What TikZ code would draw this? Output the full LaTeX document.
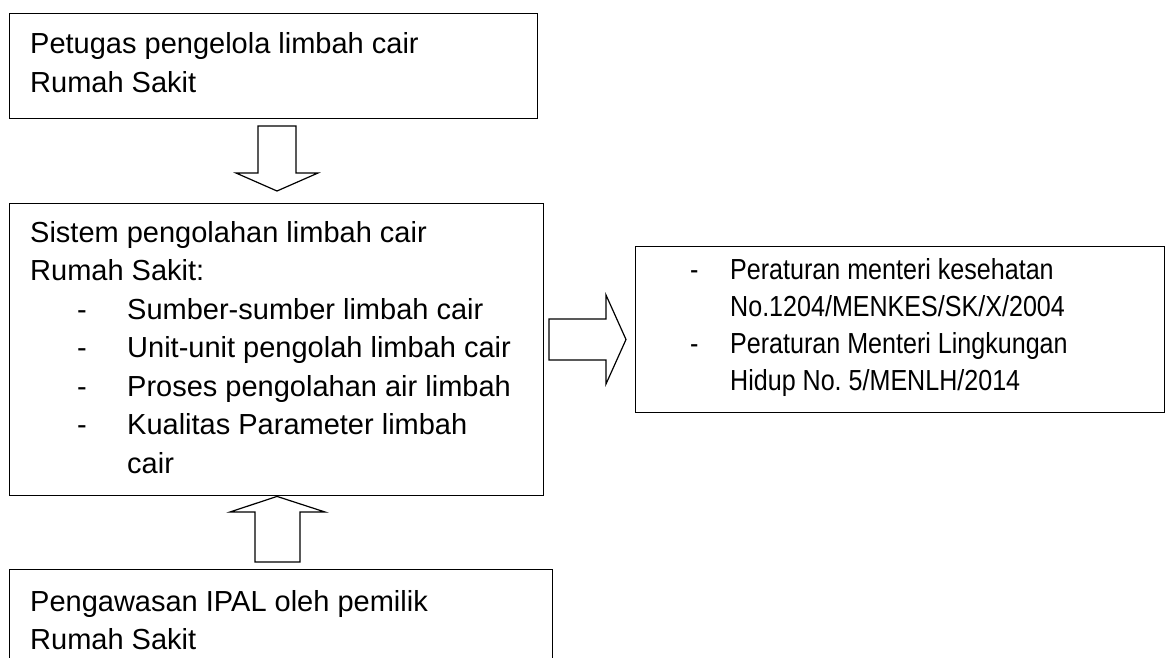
\documentclass[tikz,border=0pt]{standalone}
\usepackage{fontspec}
\setmainfont{Liberation Sans}
\newfontfamily\narrowfont[FakeStretch=0.865]{Liberation Sans}
\usetikzlibrary{calc}
\frenchspacing
\begin{document}
\begin{tikzpicture}[x=1pt,y=-1pt,
  box/.style={draw=black, line width=1.4pt, inner sep=0pt, anchor=north west},
  txt/.style={anchor=base west, inner sep=0pt, font=\fontsize{29}{38.5}\selectfont},
  ntxt/.style={anchor=base west, inner sep=0pt, font=\narrowfont\fontsize{29}{37}\selectfont},
  blockarrow/.style={draw=black, line width=1.2pt, fill=white, line join=miter}]
\useasboundingbox[fill=white] (0,0) rectangle (1168,657);
\clip (0,0) rectangle (1168,657);
% boxes
\node[box, minimum width=528pt, minimum height=105.3pt] (top) at (9,12.7) {};
\node[box, minimum width=534pt, minimum height=292pt] (mid) at (9,203) {};
\node[box, minimum width=529pt, minimum height=166pt] (right) at (635,246) {};
\node[box, minimum width=543pt, minimum height=120pt] (bot) at (9,569) {};
% texts top
\node[txt] (t1) at (30,53) {Petugas pengelola limbah cair};
\node[txt] (t2) at (30,92) {Rumah Sakit};
% texts middle
\node[txt] (m1) at (30,242) {Sistem pengolahan limbah cair};
\node[txt] (m2) at (30,280.5) {Rumah Sakit:};
\foreach \y/\t [count=\i] in {319/Sumber-sumber limbah cair, 357.5/Unit-unit pengolah limbah cair, 396/Proses pengolahan air limbah, 434.5/Kualitas Parameter limbah}{
  \node[txt] (md\i) at (77,\y) {-};
  \node[txt] (mb\i) at (127,\y) {\t};
}
\node[txt] (m7) at (127,473) {cair};
% texts right
\node[ntxt] (rd1) at (690,279) {-};
\node[ntxt] (r1) at (730,279) {Peraturan menteri kesehatan};
\node[ntxt] (r2) at (730,316) {No.1204/MENKES/SK/X/2004};
\node[ntxt] (rd2) at (690,353) {-};
\node[ntxt] (r3) at (730,353) {Peraturan Menteri Lingkungan};
\node[ntxt] (r4) at (730,390) {Hidup No. 5/MENLH/2014};
% texts bottom
\node[txt] (b1) at (30,611) {Pengawasan IPAL oleh pemilik};
\node[txt] (b2) at (30,649) {Rumah Sakit};
% block arrows
\draw[blockarrow] (258,126) -- (296,126) -- (296,173) -- (318,173) -- (277,191) -- (236,173) -- (258,173) -- cycle;
\draw[blockarrow] (255,562) -- (300,562) -- (300,512) -- (325,512) -- (mid.south -| 277,0) -- (230,512) -- (255,512) -- cycle;
\draw[blockarrow] (549,319) -- (606,319) -- (606,295) -- (626,339.5) -- (606,384) -- (606,360) -- (549,360) -- cycle;
\end{tikzpicture}
\end{document}
